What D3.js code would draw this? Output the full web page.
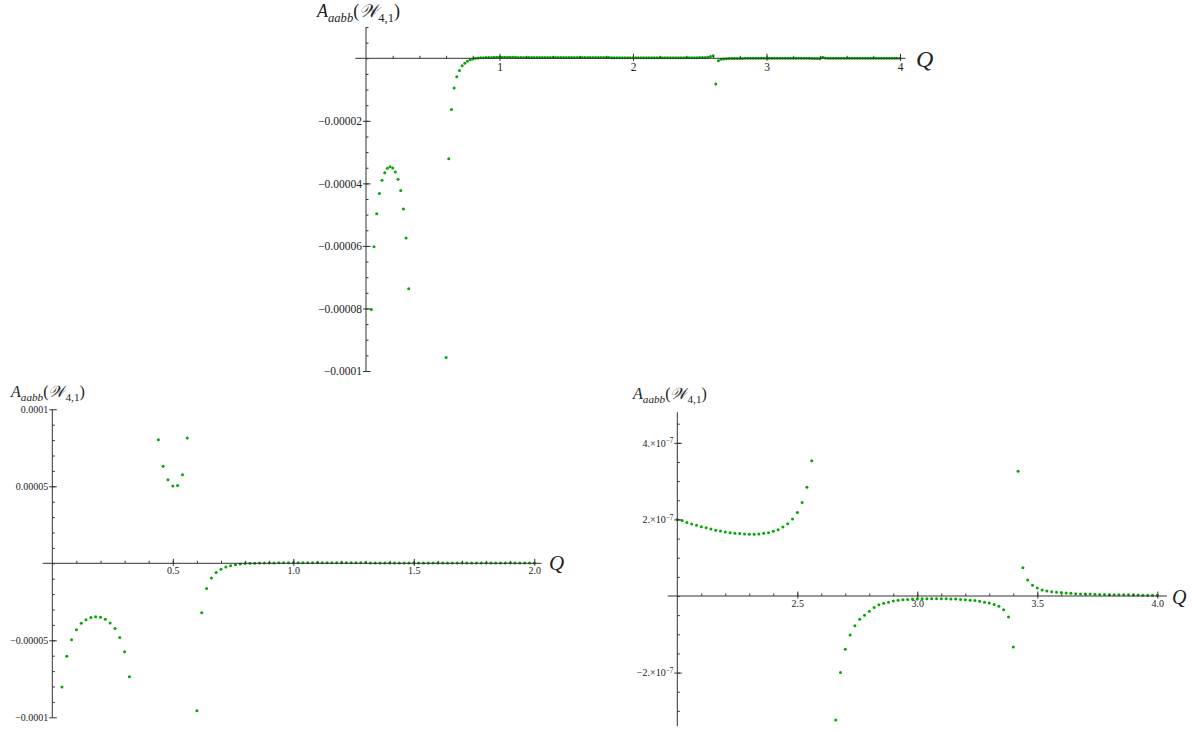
<!DOCTYPE html>
<html>
<head>
<meta charset="utf-8">
<script src="https://cdn.jsdelivr.net/npm/d3@7"></script>
<style>
body { margin: 0; background: #fff; }
svg text { font-family: "Liberation Serif", "Times New Roman", serif; fill: #222; }
</style>
</head>
<body>
<div id="container"></div>
<script>
var q1 = [0.04, 0.06, 0.08, 0.10, 0.12, 0.14, 0.16, 0.18, 0.20, 0.22, 0.24, 0.26, 0.28, 0.30, 0.32, 0.34, 0.36, 0.38, 0.40, 0.42];
var a1 = [-8.03e-5, -6.03e-5, -4.97e-5, -4.32e-5, -3.90e-5, -3.66e-5, -3.52e-5, -3.47e-5, -3.51e-5, -3.64e-5,
          -3.87e-5, -4.23e-5, -4.82e-5, -5.75e-5, -7.37e-5, -1.08e-4, -1.9e-4, -5.1e-4, 4.2e-4, 1.35e-4];

var q2 = [0.44, 0.46, 0.48, 0.50, 0.52, 0.54, 0.56, 0.58, 0.60, 0.62, 0.64, 0.66, 0.68, 0.70,
          0.72, 0.74, 0.76, 0.78, 0.80, 0.82, 0.84, 0.86, 0.88, 0.90, 0.92, 0.94, 0.96, 0.98];
var a2 = [8.03e-5, 6.3e-5, 5.43e-5, 5.02e-5, 5.06e-5, 5.75e-5, 8.14e-5, 1.7e-4, -9.57e-5, -3.21e-5,
          -1.64e-5, -9.5e-6, -5.9e-6, -3.9e-6, -2.4e-6, -1.55e-6, -9.5e-7, -5e-7, -2e-7, -2e-8,
          8e-8, 1.5e-7, 2e-7, 2.4e-7, 2.7e-7, 2.9e-7, 3.0e-7, 3.05e-7];

var q3 = [1.00, 1.02, 1.04, 1.06, 1.08, 1.10, 1.12, 1.14, 1.16, 1.18, 1.20, 1.22, 1.24, 1.26, 1.28, 1.30, 1.32,
          1.34, 1.36, 1.38, 1.40, 1.42, 1.44, 1.46, 1.48, 1.50, 1.52, 1.54, 1.56, 1.58, 1.60, 1.62, 1.64, 1.66,
          1.68, 1.70, 1.72, 1.74, 1.76, 1.78, 1.80, 1.82, 1.84, 1.86, 1.88, 1.90, 1.92, 1.94, 1.96, 1.98];
var a3 = [3.05e-7, 3.05e-7, 3.04e-7, 3.03e-7, 3.01e-7, 2.99e-7, 2.97e-7, 2.95e-7, 2.93e-7, 2.91e-7,
          2.88e-7, 2.86e-7, 2.83e-7, 2.81e-7, 2.78e-7, 2.76e-7, 2.73e-7, 2.71e-7, 2.68e-7, 2.66e-7,
          2.63e-7, 2.61e-7, 2.58e-7, 2.56e-7, 2.53e-7, 2.51e-7, 2.48e-7, 2.46e-7, 2.44e-7, 2.41e-7,
          2.39e-7, 2.37e-7, 2.35e-7, 2.33e-7, 2.31e-7, 2.29e-7, 2.27e-7, 2.25e-7, 2.23e-7, 2.21e-7,
          2.19e-7, 2.17e-7, 2.15e-7, 2.13e-7, 2.11e-7, 2.10e-7, 2.08e-7, 2.06e-7, 2.04e-7, 2.02e-7];

var q4 = [2.00, 2.02, 2.04, 2.06, 2.08, 2.10, 2.12, 2.14, 2.16, 2.18, 2.20, 2.22, 2.24, 2.26, 2.28, 2.30, 2.32,
          2.34, 2.36, 2.38, 2.40, 2.42, 2.44, 2.46, 2.48, 2.50, 2.52, 2.54, 2.56, 2.58, 2.60, 2.62, 2.64, 2.66,
          2.68, 2.70, 2.72, 2.74, 2.76, 2.78, 2.80, 2.82, 2.84, 2.86, 2.88, 2.90, 2.92, 2.94, 2.96, 2.98];
var a4 = [2.00e-7, 1.97e-7, 1.92e-7, 1.88e-7, 1.85e-7, 1.81e-7, 1.78e-7, 1.75e-7, 1.72e-7, 1.70e-7,
          1.67e-7, 1.65e-7, 1.64e-7, 1.63e-7, 1.62e-7, 1.61e-7, 1.61e-7, 1.62e-7, 1.64e-7, 1.65e-7,
          1.69e-7, 1.73e-7, 1.80e-7, 1.89e-7, 2.01e-7, 2.18e-7, 2.44e-7, 2.84e-7, 3.53e-7, 5.6e-7,
          8.5e-7, -8.2e-6, -7.7e-7, -3.24e-7, -2.00e-7, -1.39e-7, -1.02e-7, -7.8e-8, -6.1e-8, -5.0e-8,
          -4.0e-8, -3.0e-8, -2.3e-8, -1.9e-8, -1.6e-8, -1.3e-8, -1.1e-8, -1.0e-8, -9e-9, -8e-9];

var q5 = [3.00, 3.02, 3.04, 3.06, 3.08, 3.10, 3.12, 3.14, 3.16, 3.18, 3.20, 3.22, 3.24, 3.26, 3.28, 3.30, 3.32,
          3.34, 3.36, 3.38, 3.40, 3.42, 3.44, 3.46, 3.48, 3.50, 3.52, 3.54, 3.56, 3.58, 3.60, 3.62, 3.64, 3.66,
          3.68, 3.70, 3.72, 3.74, 3.76, 3.78, 3.80, 3.82, 3.84, 3.86, 3.88, 3.90, 3.92, 3.94, 3.96, 3.98, 4.00];
var a5 = [-8e-9, -7e-9, -7e-9, -7e-9, -7e-9, -7e-9, -7e-9, -8e-9, -8e-9, -9e-9,
          -1.0e-8, -1.1e-8, -1.2e-8, -1.4e-8, -1.6e-8, -1.8e-8, -2.2e-8, -2.7e-8, -3.6e-8, -5.5e-8,
          -1.33e-7, 3.26e-7, 7.4e-8, 4.2e-8, 2.8e-8, 2.1e-8, 1.6e-8, 1.3e-8, 1.1e-8, 1.0e-8,
          9e-9, 8e-9, 7e-9, 6e-9, 5.5e-9, 5e-9, 5e-9, 4.5e-9, 4e-9, 4e-9,
          3.5e-9, 3.5e-9, 3e-9, 3e-9, 3e-9, 2.5e-9, 2.5e-9, 2e-9, 2e-9, 2e-9, 2e-9];

// tick labels of the three panels
var topXLabels = ['1', '2', '3', '4'];
var topYLabels = ['\u22120.00002', '\u22120.00004', '\u22120.00006', '\u22120.00008', '\u22120.0001'];
var leftXLabels = ['0.5', '1.0', '1.5', '2.0'];
var leftYLabels = ['0.0001', '0.00005', '\u22120.00005', '\u22120.0001'];
var rightXLabels = ['2.5', '3.0', '3.5', '4.0'];
var rightYLabels = [['4.', '\u22127'], ['2.', '\u22127'], ['\u22122.', '\u22127']];

var data = [];
[[q1, a1], [q2, a2], [q3, a3], [q4, a4], [q5, a5]].forEach(function(s) {
    s[0].forEach(function(q, i) { data.push({ q: q, a: s[1][i] }); });
});

var svg = d3.select('#container')
    .append('svg')
    .attr('width', 1192)
    .attr('height', 732);

var serif = '"Liberation Serif", "Times New Roman", serif',
    axisColor = '#333',
    dotColor = '#00a800';

function panel(c) {
    var x = d3.scaleLinear().domain(c.xDomain).range(c.xRange);
    var y = d3.scaleLinear().domain(c.yDomain).range(c.yRange);
    var g = svg.append('g');
    var x0 = x(c.xDomain[0]), y0 = y(0);

    // dots first, axes on top
    var pts = data.filter(function(d) {
        return d.q >= c.xDomain[0] - 1e-9 && d.q <= c.xDomain[1] + 1e-9 &&
            d.a <= c.yTop && d.a >= c.yBottom;
    });
    g.selectAll('circle')
        .data(pts)
        .enter()
        .append('circle')
        .attr('cx', function(d) { return x(d.q); })
        .attr('cy', function(d) { return y(d.a); })
        .attr('r', 1.5)
        .style('fill', dotColor);

    // x axis
    var xa = g.append('g').attr('transform', 'translate(0,' + y0 + ')');
    xa.append('line')
        .attr('x1', x(c.xLine[0])).attr('x2', x(c.xLine[1]))
        .attr('stroke', axisColor);
    xa.append('g')
        .call(d3.axisBottom(x).tickValues(c.xMinor).tickFormat('').tickSizeInner(-2.5).tickSizeOuter(0))
        .call(function(s) { s.select('.domain').remove(); s.selectAll('line').attr('stroke', axisColor); });
    xa.append('g')
        .call(d3.axisBottom(x).tickValues(c.xMajor)
            .tickFormat(function(d, i) { return c.xLabels[i]; })
            .tickSizeInner(-4.5).tickSizeOuter(0).tickPadding(c.xPad))
        .attr('font-family', serif)
        .call(function(s) {
            s.select('.domain').remove();
            s.selectAll('line').attr('y1', 2.5).attr('stroke', axisColor);
            s.selectAll('text').attr('font-size', c.tickSize).attr('fill', '#222');
        });

    // y axis
    var ya = g.append('g').attr('transform', 'translate(' + x0 + ',0)');
    ya.append('line')
        .attr('y1', y(c.yTop)).attr('y2', y(c.yBottom))
        .attr('stroke', axisColor);
    ya.append('g')
        .call(d3.axisLeft(y).tickValues(c.yMinor).tickFormat('').tickSizeInner(-2.5).tickSizeOuter(0))
        .call(function(s) { s.select('.domain').remove(); s.selectAll('line').attr('stroke', axisColor); });
    ya.append('g')
        .call(d3.axisLeft(y).tickValues(c.yMajor)
            .tickFormat(function(d, i) { return typeof c.yLabels[i] === 'string' ? c.yLabels[i] : ''; })
            .tickSizeInner(-4.5).tickSizeOuter(0).tickPadding(4))
        .attr('font-family', serif)
        .call(function(s) {
            s.select('.domain').remove();
            s.selectAll('line').attr('x1', -3).attr('stroke', axisColor);
            s.selectAll('text').attr('font-size', c.tickSize).attr('fill', '#222');
            if (c.sci) {
                s.selectAll('text').each(function(d, i) {
                    var t = d3.select(this).text('');
                    t.append('tspan').text(c.yLabels[i][0] + '\u00d710');
                    t.append('tspan').attr('dy', '-0.5em').attr('font-size', '0.72em').text(c.yLabels[i][1]);
                });
            }
        });

    // axis titles
    var lab = svg.append('text')
        .attr('x', c.yTitle[0]).attr('y', c.yTitle[1])
        .attr('font-size', c.yTitle[2]);
    var s = c.yTitle[2], sub = s * 0.7;
    lab.append('tspan').attr('font-style', 'italic').text('A');
    lab.append('tspan').attr('font-style', 'italic').attr('font-size', sub).attr('dy', s * 0.25).text('aabb');
    lab.append('tspan').attr('dy', -s * 0.25).text('(');
    lab.append('tspan').attr('font-family', 'DejaVu Serif').attr('font-style', 'italic').text('\ud835\udcb2');
    lab.append('tspan').attr('font-size', sub).attr('dy', s * 0.25).text('4,1');
    lab.append('tspan').attr('dy', -s * 0.25).text(')');

    svg.append('text')
        .attr('x', c.qTitle[0]).attr('y', c.qTitle[1])
        .attr('font-size', c.qTitle[2])
        .attr('font-style', 'italic')
        .text('Q');
}

panel({
    xDomain: [0, 4], xRange: [366, 900], xLine: [-0.08, 4.04],
    yDomain: [0, -0.0001], yRange: [58.3, 371], yTop: 0.00001, yBottom: -0.0001,
    xMajor: [1, 2, 3, 4], xLabels: topXLabels,
    xMinor: d3.range(0.2, 4, 0.2),
    yMajor: [-0.00002, -0.00004, -0.00006, -0.00008, -0.0001], yLabels: topYLabels,
    yMinor: d3.range(-19, 3).map(function(k) { return k * 0.000005; }),
    tickSize: 11.5, xPad: 5,
    yTitle: [317, 17, 18], qTitle: [916, 66.5, 24]
});

panel({
    xDomain: [0, 2], xRange: [52.3, 534.3], xLine: [-0.04, 2.03],
    yDomain: [-0.0001, 0.0001], yRange: [717.3, 409.3], yTop: 0.0001, yBottom: -0.0001,
    xMajor: [0.5, 1, 1.5, 2], xLabels: leftXLabels,
    xMinor: d3.range(0.1, 2, 0.1),
    yMajor: [0.0001, 0.00005, -0.00005, -0.0001], yLabels: leftYLabels,
    yMinor: d3.range(-9, 10).map(function(k) { return k * 0.00001; }),
    tickSize: 10, xPad: 4,
    yTitle: [11, 397, 16], qTitle: [549, 570, 21]
});

panel({
    xDomain: [2, 4], xRange: [677.3, 1157.3], xLine: [1.96, 4.04],
    yDomain: [-3.4e-7, 4.8e-7], yRange: [726.2, 412.2], yTop: 4.8e-7, yBottom: -3.4e-7,
    xMajor: [2.5, 3, 3.5, 4], xLabels: rightXLabels,
    xMinor: d3.range(2.1, 4, 0.1),
    yMajor: [4e-7, 2e-7, -2e-7], yLabels: rightYLabels, sci: true,
    yMinor: d3.range(-6, 10).map(function(k) { return k * 0.5e-7; }),
    tickSize: 10, xPad: 4,
    yTitle: [633, 398.5, 16], qTitle: [1172, 604, 20]
});
</script>
</body>
</html>
